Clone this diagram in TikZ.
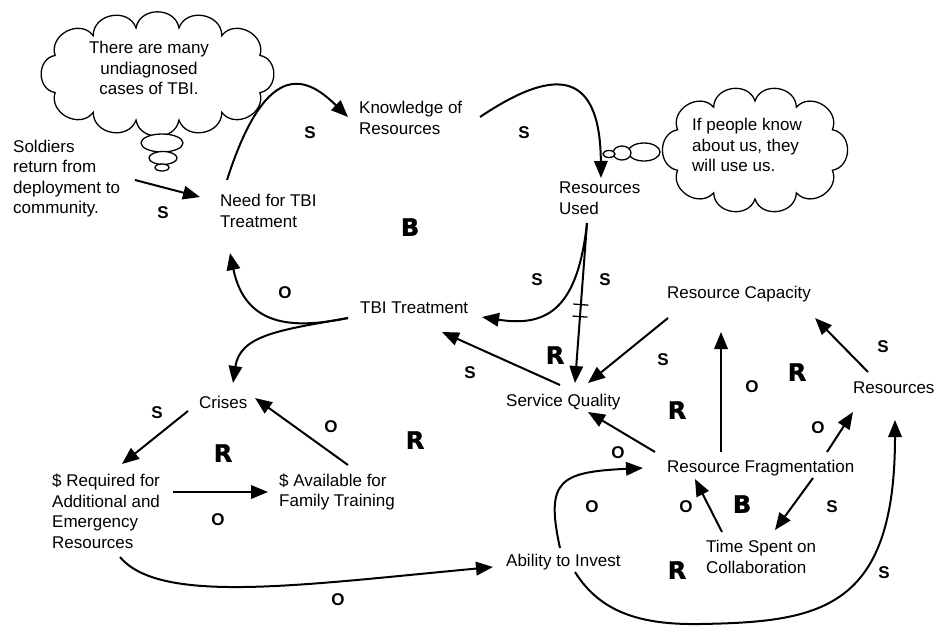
\documentclass[tikz,border=0pt]{standalone}
\usepackage{fontspec}
\setmainfont{Liberation Sans}
\newfontfamily\heavyfont{DejaVu Sans}[BoldFeatures={FakeBold=1.5}]
\usetikzlibrary{arrows.meta,calc,decorations.markings}
\begin{document}
\begin{tikzpicture}[x=1pt,y=-1pt,
  lab/.style={inner sep=0pt,anchor=west,align=left,font=\fontsize{17}{20.5}\selectfont},
  pol/.style={inner sep=0pt,font=\fontsize{17}{17}\selectfont\bfseries},
  loopmark/.style={inner sep=0pt,font=\heavyfont\bfseries\fontsize{24}{24}\selectfont},
  link/.style={line width=2pt,-{Triangle[length=17pt,width=13.5pt]}},
  thought/.style={draw,line width=1.3pt,fill=white},
  puff/.style={bend left=80,looseness=1.3},
  hashmarks/.style={postaction={decorate},decoration={markings,
     mark=at position 0.51 with {\draw[-,line width=1.3pt] (0,-7.5pt) -- (0,7.5pt);},
     mark=at position 0.585 with {\draw[-,line width=1.3pt] (0,-7.5pt) -- (0,7.5pt);}}}
]
\useasboundingbox (0,0) rectangle (934,627);

% cloud 1 with thought bubbles
\coordinate (cc1) at (157.5,74);
\draw[thought] ($(cc1)+({111.5*cos(23.3)},{47*sin(23.3)})$)
  \foreach \t in {54.8,78.9,101.1,125.2,156.7,203.3,234.8,258.9,281.1,305.2,336.7,383.3}
  { to[puff] ($(cc1)+({111.5*cos(\t)},{47*sin(\t)})$) } -- cycle;
\draw[thought] (162,143) ellipse [x radius=21pt, y radius=9pt];
\draw[thought] (163,158) ellipse [x radius=14pt, y radius=6.5pt];
\draw[thought] (162,167.5) ellipse [x radius=7pt, y radius=3.5pt];
\node[lab,anchor=center,align=center] (c1t) at (149,68) {There are many\\undiagnosed\\cases of TBI.};

% cloud 2 with thought bubbles
\coordinate (cc2) at (755,150);
\draw[thought] ($(cc2)+({85*cos(24.4)},{49*sin(24.4)})$)
  \foreach \t in {60.9,90,119.1,155.6,204.4,240.9,270,299.1,335.6,384.4}
  { to[puff] ($(cc2)+({85*cos(\t)},{49*sin(\t)})$) } -- cycle;
\draw[thought] (644,152) ellipse [x radius=16pt, y radius=9pt];
\draw[thought] (622,153) ellipse [x radius=9pt, y radius=7pt];
\draw[thought] (609,154) ellipse [x radius=6pt, y radius=3.5pt];
\node[lab] (c2t) at (692,145) {If people know\\about us, they\\will use us.};

% variables
\node[lab] (soldiers) at (13,178.5) {Soldiers\\return from\\deployment to\\community.};
\node[lab] (need) at (220,211) {Need for TBI\\Treatment};
\node[lab] (know) at (359,118) {Knowledge of\\Resources};
\node[lab] (used) at (559,198) {Resources\\Used};
\node[lab] (tbi) at (360,308) {TBI Treatment};
\node[lab] (rcap) at (667,294) {Resource Capacity};
\node[lab] (sq) at (506,402) {Service Quality};
\node[lab] (res) at (853,388) {Resources};
\node[lab] (crises) at (199,402) {Crises};
\node[lab] (req) at (52,511.5) {\$ Required for\\Additional and\\Emergency\\Resources};
\node[lab] (avail) at (279,492) {\$ Available for\\Family Training};
\node[lab] (frag) at (667,468) {Resource Fragmentation};
\node[lab] (time) at (706,557) {Time Spent on\\Collaboration};
\node[lab] (abil) at (506,562) {Ability to Invest};

% links
\draw[link] ($(soldiers.west)+(122,1.5)$) -- ($(need.west)+(-20,-14)$);
\draw[link] ($(need.west)+(7,-31)$) .. controls (268,52) and (310,80) .. ($(know.west)+(-11,-1)$);
\draw[link] ($(know.west)+(121,-1)$) .. controls (550,70) and (600,65) .. ($(used.west)+(42,-20)$);
\draw[link] ($(used.west)+(28,25)$) .. controls (578,305) and (550,328) .. ($(tbi.west)+(122,9)$);
\draw[link,hashmarks] ($(used.west)+(28,25)$) -- ($(sq.west)+(69,-19)$);
\draw[link] ($(rcap.west)+(1,24)$) -- ($(sq.west)+(82,-19)$);
\draw[link] ($(sq.west)+(54,-17)$) -- ($(tbi.west)+(82,24)$);
\draw[link] ($(tbi.west)+(-12,10)$) .. controls (290,330) and (245,325) .. ($(need.west)+(10,42)$);
\draw[link] ($(tbi.west)+(-12,10)$) .. controls (280,330) and (240,335) .. ($(crises.west)+(34,-19)$);
\draw[link] ($(crises.west)+(-11,9)$) -- ($(req.west)+(70,-47.5)$);
\draw[link] ($(req.west)+(121,-19.5)$) -- ($(avail.west)+(-11,0)$);
\draw[link] ($(avail.west)+(69,-27)$) -- ($(crises.west)+(56,-4)$);
\draw[link] ($(req.west)+(68,45.5)$) .. controls (160,605) and (300,585) .. ($(abil.west)+(-13,5)$);
\draw[link] ($(abil.west)+(54,-14)$) .. controls (545,480) and (560,472) .. ($(frag.west)+(-24,0)$);
\draw[link] ($(frag.west)+(-12,-16)$) -- ($(sq.west)+(82,10)$);
\draw[link] ($(frag.west)+(54,-16)$) -- ($(rcap.west)+(54,38)$);
\draw[link] ($(frag.west)+(160,-16)$) -- ($(res.west)+(0,24)$);
\draw[link] ($(res.west)+(15,-16)$) -- ($(rcap.west)+(148,24)$);
\draw[link] ($(frag.west)+(146,10)$) -- ($(time.west)+(69,-27)$);
\draw[link] ($(time.west)+(16,-25)$) -- ($(frag.west)+(28,11)$);
\draw[link] ($(abil.west)+(69,10)$) .. controls (600,612) and (640,625) .. (700,624)
   .. controls (820,622) and (895,610) .. ($(res.west)+(42,32)$);

% polarities
\node[pol] (p1) at (163,213) {S};
\node[pol] (p2) at (310,133) {S};
\node[pol] (p3) at (524,133) {S};
\node[pol] (p4) at (285,293) {O};
\node[pol] (p5) at (537,280) {S};
\node[pol] (p6) at (605,280) {S};
\node[pol] (p7) at (470,373) {S};
\node[pol] (p8) at (663,360) {S};
\node[pol] (p9) at (752,387) {O};
\node[pol] (p10) at (883,347) {S};
\node[pol] (p11) at (818,428) {O};
\node[pol] (p12) at (618,453) {O};
\node[pol] (p13) at (157,413) {S};
\node[pol] (p14) at (331,427) {O};
\node[pol] (p15) at (218,520) {O};
\node[pol] (p16) at (592,507) {O};
\node[pol] (p17) at (686,507) {O};
\node[pol] (p18) at (832,507) {S};
\node[pol] (p19) at (884,573) {S};
\node[pol] (p20) at (338,600) {O};

% loop markers
\node[loopmark] (l1) at (410,227) {B};
\node[loopmark] (l2) at (555,355) {R};
\node[loopmark] (l3) at (797,372) {R};
\node[loopmark] (l4) at (677,410) {R};
\node[loopmark] (l5) at (223,453) {R};
\node[loopmark] (l6) at (415,440) {R};
\node[loopmark] (l7) at (742,504) {B};
\node[loopmark] (l8) at (677,570) {R};
\end{tikzpicture}
\end{document}
